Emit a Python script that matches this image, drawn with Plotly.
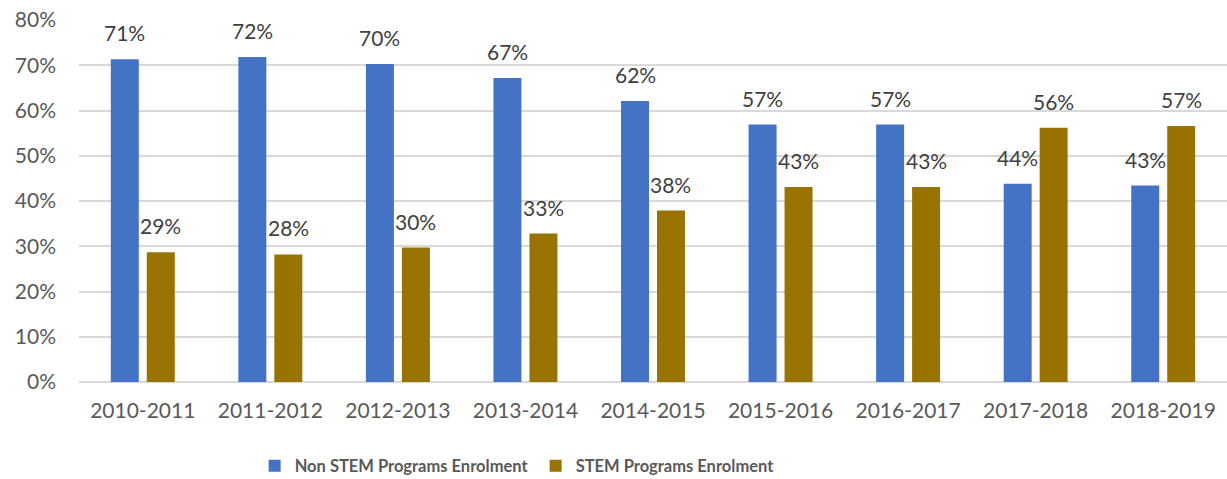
import plotly.graph_objects as go

years = ["2010-2011", "2011-2012", "2012-2013", "2013-2014", "2014-2015",
         "2015-2016", "2016-2017", "2017-2018", "2018-2019"]
non_stem = [71.3, 71.8, 70.3, 67.2, 62.1, 56.9, 56.9, 43.8, 43.4]
stem = [28.7, 28.2, 29.7, 32.8, 37.9, 43.1, 43.1, 56.2, 56.6]
series_names = ["Non STEM Programs Enrolment", "STEM Programs Enrolment"]
colors = ["#4472C4", "#997300"]
y_ticks = [0, 10, 20, 30, 40, 50, 60, 70, 80]

FONT = "Lato, 'Open Sans', sans-serif"
W, H = 1227, 479
ML, MR, MT, MB = 79, 0, 20, 97
BARGAP = 0.436
BARGROUPGAP = 0.222

fig = go.Figure()
for name, vals, col in zip(series_names, [non_stem, stem], colors):
    fig.add_trace(go.Bar(x=years, y=vals, name=name, marker_color=col,
                         marker_line_width=0, hoverinfo="skip"))

# data labels as annotations (centered over each bar)
plot_w = W - ML - MR
cat_w = plot_w / len(years)
slot = cat_w * (1 - BARGAP) / 2
for si, vals in enumerate([non_stem, stem]):
    shift = (-0.5 + si) * slot
    for yr, v in zip(years, vals):
        fig.add_annotation(x=yr, y=v, text=f"{round(v)}%", showarrow=False,
                           xshift=shift, yshift=12, yanchor="bottom",
                           font=dict(family=FONT, size=21, color="#404040"))

fig.update_layout(
    width=W, height=H,
    margin=dict(l=ML, r=MR, t=MT, b=MB, autoexpand=False),
    paper_bgcolor="white", plot_bgcolor="white",
    barmode="group", bargap=BARGAP, bargroupgap=BARGROUPGAP,
    font=dict(family=FONT, color="#595959"),
    legend=dict(orientation="h", x=0.153, xanchor="left",
                yref="container", y=13 / H, yanchor="middle",
                font=dict(family=FONT, size=16.5, color="#595959", weight="bold"),
                entrywidth=236, entrywidthmode="pixels", itemwidth=30),
    showlegend=True,
)
fig.update_xaxes(showgrid=False, showline=False, ticks="",
                 tickfont=dict(family=FONT, size=21, color="#595959"),
                 ticklabelstandoff=14)
fig.update_yaxes(range=[0, 80], tickmode="array", tickvals=y_ticks,
                 ticktext=[f"{t}%" for t in y_ticks],
                 showgrid=True, gridcolor="#D9D9D9", gridwidth=1.5,
                 zeroline=True, zerolinecolor="#D9D9D9", zerolinewidth=1.5,
                 showline=False, ticks="",
                 tickfont=dict(family=FONT, size=21, color="#595959"),
                 ticklabelstandoff=22)

fig.write_html("out.html")
